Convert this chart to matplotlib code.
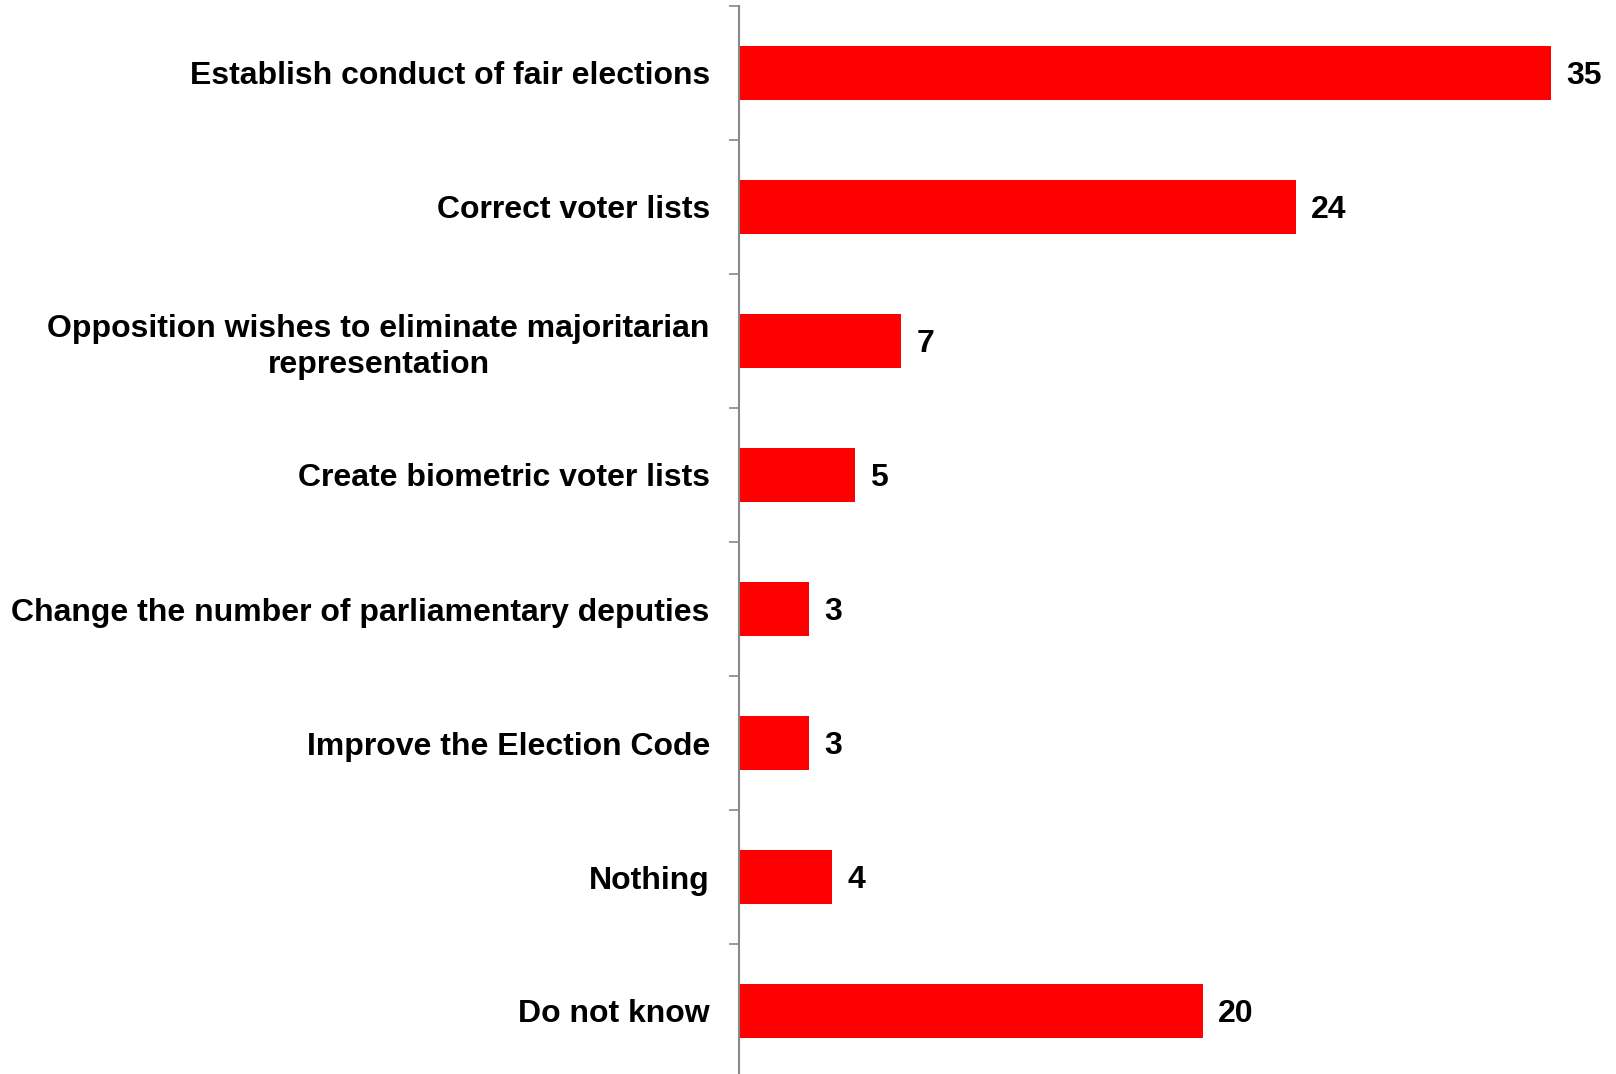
import matplotlib
matplotlib.use('Agg')
import matplotlib.pyplot as plt
import numpy as np

categories = [
    "Establish conduct of fair elections",
    "Correct voter lists",
    "Opposition wishes to eliminate majoritarian\nrepresentation",
    "Create biometric voter lists",
    "Change the number of parliamentary deputies",
    "Improve the Election Code",
    "Nothing",
    "Do not know",
]
values = [35, 24, 7, 5, 3, 3, 4, 20]

plt.rcParams['font.family'] = ['Liberation Sans', 'DejaVu Sans']

fig = plt.figure(figsize=(16.16, 10.74), dpi=100)
ax = fig.add_axes([739 / 1616, -4 / 1074, 1 - 739 / 1616, 1072 / 1074])

y = np.arange(len(categories))
ax.barh(y, values, height=0.4, color='#ff0000')

# value labels to the right of each bar
for yi, v in zip(y, values):
    ax.annotate(str(v), (v, yi), xytext=(11, 0), textcoords='offset points',
                ha='left', va='center_baseline', fontsize=23, fontweight='bold')

ax.set_xlim(0, 877 / 23.2)
ax.set_ylim(len(categories) - 0.5, -0.5)

ax.set_yticks(y)
ax.set_yticklabels(categories, fontsize=23, fontweight='bold')
for lab in ax.get_yticklabels():
    lab.set_multialignment('center')
    lab.set_linespacing(1.22)
# tick marks sit between the categories
ax.set_yticks(np.arange(-0.5, len(categories)), minor=True)
ax.tick_params(axis='y', which='major', length=0, pad=21)
ax.tick_params(axis='y', which='minor', length=7.5, width=1.2, color='#888888', direction='out')
ax.set_xticks([])

for s in ['top', 'right', 'bottom']:
    ax.spines[s].set_visible(False)
ax.spines['left'].set_color('#888888')
ax.spines['left'].set_linewidth(1.5)

fig.savefig('out.png', dpi=100)
